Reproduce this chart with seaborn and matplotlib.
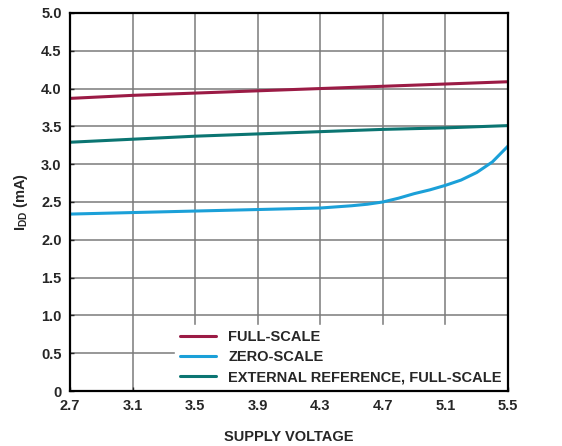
import numpy as np
import pandas as pd
import matplotlib
matplotlib.use("Agg")
import matplotlib.pyplot as plt
import seaborn as sns

# data
voltage_fs = [2.7, 3.1, 3.5, 3.9, 4.3, 4.7, 5.1, 5.5]
idd_full_scale = [3.87, 3.91, 3.94, 3.97, 4.00, 4.03, 4.06, 4.09]
idd_ext_ref = [3.29, 3.33, 3.37, 3.40, 3.43, 3.46, 3.48, 3.51]

voltage_zs = [2.7, 3.1, 3.5, 3.9, 4.3, 4.5, 4.6, 4.7, 4.8, 4.9, 5.0, 5.1, 5.2, 5.3, 5.4, 5.5]
idd_zero_scale = [2.34, 2.36, 2.38, 2.40, 2.42, 2.45, 2.47, 2.50, 2.55, 2.61, 2.66, 2.72, 2.79, 2.89, 3.03, 3.24]

series_names = ["FULL-SCALE", "ZERO-SCALE", "EXTERNAL REFERENCE, FULL-SCALE"]
series_colors = ["#9B1B45", "#1BA0D8", "#0B7572"]

x_ticks = [2.7, 3.1, 3.5, 3.9, 4.3, 4.7, 5.1, 5.5]
y_ticks = [0, 0.5, 1.0, 1.5, 2.0, 2.5, 3.0, 3.5, 4.0, 4.5, 5.0]
y_tick_labels = ["0", "0.5", "1.0", "1.5", "2.0", "2.5", "3.0", "3.5", "4.0", "4.5", "5.0"]

df = pd.concat([
    pd.DataFrame({"v": voltage_fs, "idd": idd_full_scale, "series": series_names[0]}),
    pd.DataFrame({"v": voltage_zs, "idd": idd_zero_scale, "series": series_names[1]}),
    pd.DataFrame({"v": voltage_fs, "idd": idd_ext_ref, "series": series_names[2]}),
])

sns.set_style("white")
plt.rcParams["font.family"] = ["Liberation Sans", "DejaVu Sans"]
plt.rcParams["font.weight"] = "bold"
plt.rcParams["mathtext.fontset"] = "custom"
plt.rcParams["mathtext.rm"] = "Liberation Sans:bold"
plt.rcParams["mathtext.it"] = "Liberation Sans:bold"
plt.rcParams["mathtext.bf"] = "Liberation Sans:bold"

fs = 10.5

fig, ax = plt.subplots(figsize=(5.62, 4.46), dpi=100)
fig.subplots_adjust(left=0.1246, right=0.904, top=0.971, bottom=0.1233)

sns.lineplot(data=df, x="v", y="idd", hue="series", hue_order=series_names,
             palette=series_colors, linewidth=2.2, ax=ax, sort=True, zorder=3)

ax.set_xlim(2.7, 5.5)
ax.set_ylim(0, 5.0)
ax.set_xticks(x_ticks)
ax.set_xticklabels([f"{t:.1f}" for t in x_ticks])
ax.set_yticks(y_ticks)
ax.set_yticklabels(y_tick_labels)
ax.tick_params(axis="both", labelsize=fs, direction="in", length=3, width=1,
               pad=6, bottom=True, left=True)
for lab in ax.get_xticklabels() + ax.get_yticklabels():
    lab.set_fontweight("bold")

ax.grid(True, color="#7a7a7a", linewidth=1.1, zorder=0)
ax.set_axisbelow(True)
for s in ax.spines.values():
    s.set_color("black")
    s.set_linewidth(1.6)
    s.set_zorder(5)

ax.set_xlabel("SUPPLY VOLTAGE", fontsize=fs, fontweight="bold", labelpad=12)
ax.set_ylabel(r"$\mathrm{I_{DD}}$ (mA)", fontsize=fs, fontweight="bold", labelpad=8)

leg = ax.legend(loc="lower right", bbox_to_anchor=(0.997, 0.004), frameon=True,
                fancybox=False, framealpha=1, edgecolor="white", facecolor="white",
                prop={"size": fs, "weight": "bold"}, handlelength=2.5,
                handletextpad=0.8, labelspacing=0.42, borderpad=0.35,
                borderaxespad=0)
leg.set_zorder(4)
for line in leg.get_lines():
    line.set_linewidth(2.2)

fig.savefig("out.png", dpi=100)
